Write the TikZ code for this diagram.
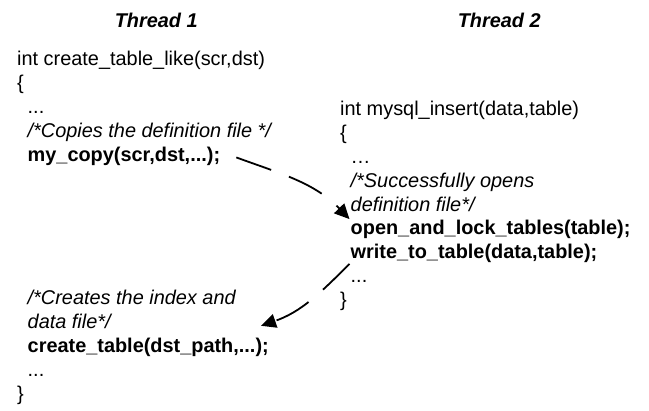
\documentclass[tikz,border=0pt]{standalone}
\usepackage{fontspec}
\setmainfont{Liberation Sans}
\usetikzlibrary{positioning,arrows.meta}
\newcommand{\codesize}{\fontsize{19.9pt}{23.9pt}\selectfont}
\tikzset{
	code/.style={anchor=base west, inner sep=0pt, font=\codesize},
	call/.style={code, font=\codesize\bfseries},
	note/.style={code, font=\codesize\itshape},
	head/.style={code, font=\codesize\bfseries\itshape},
	under/.style={below=of #1.base west, anchor=base west},
	link/.style={-{Triangle[length=15pt,width=14pt]}, line width=1.8pt, dash pattern=on 37pt off 19pt}
}

\begin{document}
\begin{tikzpicture}[x=1pt, y=1pt, node distance =23.9pt]
		\useasboundingbox (0,0) rectangle (649,411);
		\node[head](T1) at (114.6,383) {Thread 1};
		\node[head](T2) at (457.6,383) {Thread 2};
		\node[code](A1) at (17,345) {int create\_table\_like(scr,dst)};
		\node[code](A2)[under=A1] {\{};
		\node[code](A3)[under=A2, xshift=10.5pt] {...};
		\node[note](A4)[under=A3] {/*Copies the definition file */};
		\node[call](A5)[under=A4] {my\_copy(scr,dst,...);};
		\node[code](B1) at (340,295.5) {int mysql\_insert(data,table)};
		\node[code](B2)[under=B1] {\{};
		\node[code](B3)[under=B2, xshift=10.5pt] {…};
		\node[note](B4)[under=B3] {/*Successfully opens};
		\node[note](B5)[under=B4] {definition file*/};
		\node[call](B6)[under=B5] {open\_and\_lock\_tables(table);};
		\node[call](B7)[under=B6] {write\_to\_table(data,table);};
		\node[code](B8)[under=B7] {...};
		\node[code](B9)[under=B8, xshift=-10.5pt] {\}};
		\node[note](C1) at (27.5,106) {/*Creates the index and};
		\node[note](C2)[under=C1] {data file*/};
		\node[call](C3)[under=C2] {create\_table(dst\_path,...);};
		\node[code](C4)[under=C3] {...};
		\node[code](C5)[under=C4, xshift=-10.5pt] {\}};
		\draw[link] ([shift={(16pt,-1pt)}]A5.east) to[out=-20,in=134] ([shift={(-1pt,-8pt)}]B5.base west);
		\draw[link] ([shift={(-1pt,-5pt)}]B7.base west) to[out=225,in=19] ([shift={(-8pt,27pt)}]C3.base east);
		\end{tikzpicture}
\end{document}
